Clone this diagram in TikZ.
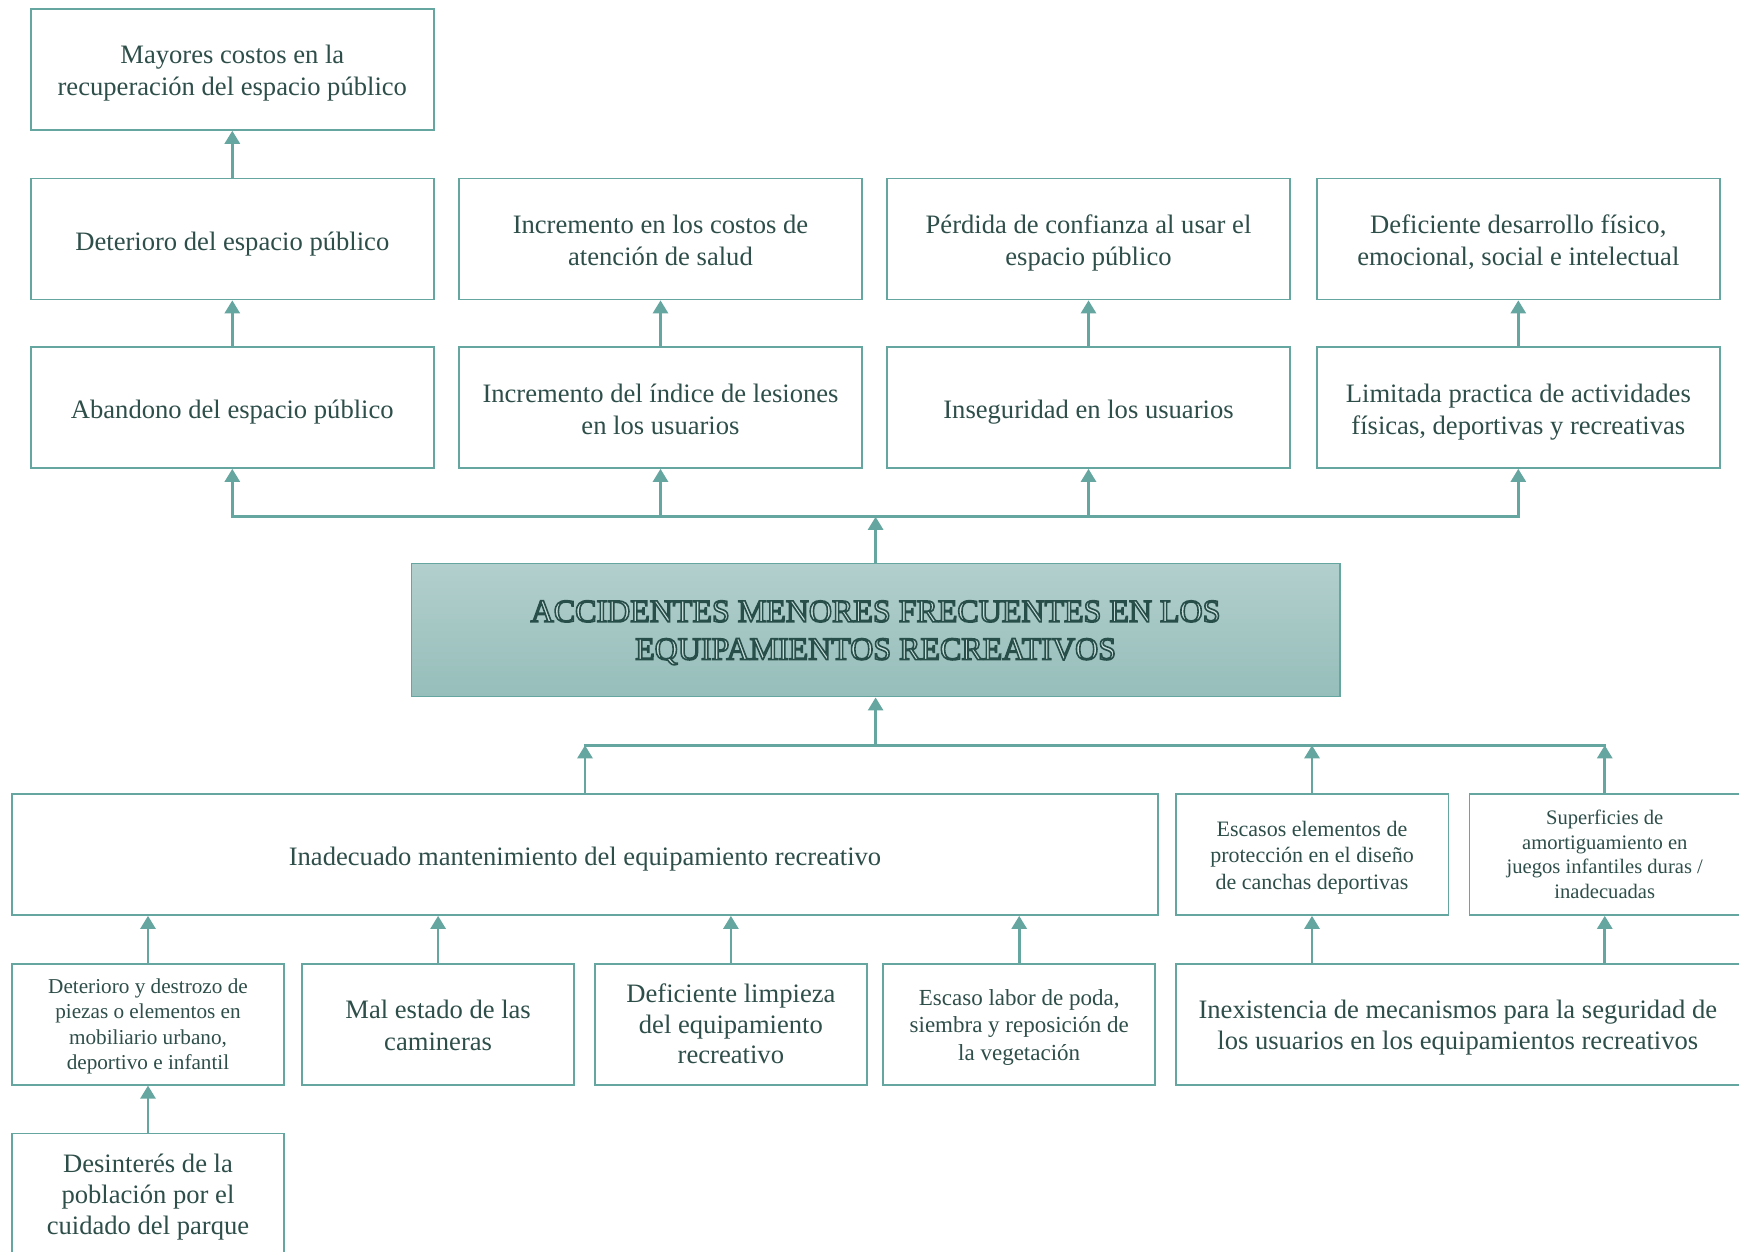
\documentclass[tikz,border=0pt]{standalone}
\usepackage{fontspec}
\setmainfont{Liberation Serif}
\newfontfamily\ttlfont[FakeBold=5]{Liberation Serif}
\usetikzlibrary{arrows.meta}
\definecolor{teal1}{RGB}{102,166,160}
\definecolor{txt}{RGB}{46,78,73}
\definecolor{gtop}{RGB}{178,207,205}
\definecolor{gbot}{RGB}{150,190,186}
\definecolor{tdark}{RGB}{40,78,73}
\newcommand\lightfill{\special{pdf:literal direct 0.784 0.871 0.863 rg}}
% text block: lines of equal height, lowered by #1 inside the box
\newcommand\tx[2][2.1pt]{\raisebox{-#1}[\height][\depth]{\begin{tabular}{@{}c@{}}#2\end{tabular}}}
\begin{document}
\begin{tikzpicture}[x=0.5pt,y=-0.5pt,
  box/.style={draw=teal1, line width=0.9pt, fill=white, text=txt, inner sep=0pt,
    font=\fontsize{13.3}{16}\selectfont},
  colbox/.style={box, minimum width=201.3pt, minimum height=60.45pt},
  rowa/.style={box, minimum height=60.45pt},
  rowb/.style={box, minimum width=135.85pt, minimum height=60.45pt},
  conn/.style={draw=teal1, line width=1.35pt, -{Triangle[width=7.5pt,length=6.5pt]}},
  lin/.style={draw=teal1, line width=1.35pt, line cap=rect}]
\useasboundingbox[fill=white] (0,0) rectangle (1739,1252);

% ---- effects ----
\node[colbox] (t0) at (232.3,69.4) {\tx{Mayores costos en la\\recuperación del espacio público}};
\node[colbox] (t1) at (232.3,239) {\tx[2.3pt]{Deterioro del espacio público}};
\node[colbox] (t2) at (660.5,239) {\tx{Incremento en los costos de\\atención de salud}};
\node[colbox] (t3) at (1088.5,239) {\tx{Pérdida de confianza al usar el\\espacio público}};
\node[colbox] (t4) at (1518.3,239) {\tx{Deficiente desarrollo físico,\\emocional, social e intelectual}};
\node[colbox] (u1) at (232.3,407.5) {\tx[2.5pt]{Abandono del espacio público}};
\node[colbox] (u2) at (660.5,407.5) {\tx{Incremento del índice de lesiones\\en los usuarios}};
\node[colbox] (u3) at (1088.5,407.5) {\tx[2.5pt]{Inseguridad en los usuarios}};
\node[colbox] (u4) at (1518.3,407.5) {\tx{Limitada practica de actividades\\físicas, deportivas y recreativas}};

\draw[conn] (t1.north) -- (t0.south);
\foreach \i in {1,2,3,4} {\draw[conn] (u\i.north) -- (t\i.south);}

% ---- central problem ----
\node[box, top color=gtop, bottom color=gbot, text=tdark,
  minimum width=464.1pt, minimum height=66.55pt,
  font=\ttlfont\fontsize{16}{18.9}\selectfont] (c) at (875.6,630)
  {\tx[1.6pt]{\lightfill ACCIDENTES MENORES FRECUENTES EN LOS\\\lightfill EQUIPAMIENTOS RECREATIVOS}};

\coordinate (hl) at (0,516.8);
\draw[lin] (u1.south |- hl) -- (u4.south |- hl);
\foreach \i in {1,2,3,4} {\draw[conn] (u\i.south |- hl) -- (u\i.south);}
\draw[conn] (c.north) -- (c.north |- hl);

% ---- causes ----
\node[rowa, minimum width=572.85pt] (a1) at (585,854.5) {\tx{Inadecuado mantenimiento del equipamiento recreativo}};
\node[rowa, minimum width=136.4pt, font=\fontsize{11}{13.3}\selectfont] (a2) at (1312,854.5)
  {\tx[1.55pt]{Escasos elementos de\\protección en el diseño\\de canchas deportivas}};
\node[rowa, minimum width=135.25pt, font=\fontsize{10.3}{12.4}\selectfont] (a3) at (1604.75,854.5)
  {\tx[1pt]{Superficies de\\amortiguamiento en\\juegos infantiles duras /\\inadecuadas}};

\node[rowb, font=\fontsize{10.6}{12.75}\selectfont] (b1) at (148,1024.25)
  {\tx[1pt]{Deterioro y destrozo de\\piezas o elementos en\\mobiliario urbano,\\deportivo e infantil}};
\node[rowb, font=\fontsize{13.3}{15.6}\selectfont] (b2) at (438.1,1024.25) {\tx[2pt]{Mal estado de las\\camineras}};
\node[rowb, font=\fontsize{13.3}{15.3}\selectfont] (b3) at (730.9,1024.25) {\tx[1.5pt]{Deficiente limpieza\\del equipamiento\\recreativo}};
\node[rowb, font=\fontsize{11.5}{13.9}\selectfont] (b4) at (1019.2,1024.25)
  {\tx[1.55pt]{Escaso labor de poda,\\siembra y reposición de\\la vegetación}};
\node[rowa, minimum width=282.2pt, font=\fontsize{13.3}{15.6}\selectfont] (b5) at (1457.8,1024.25)
  {\tx[1.65pt]{Inexistencia de mecanismos para la seguridad de\\los usuarios en los equipamientos recreativos}};
\node[rowb, font=\fontsize{13.3}{15.6}\selectfont] (d) at (148,1194)
  {\tx[1.65pt]{Desinterés de la\\población por el\\cuidado del parque}};

\coordinate (bl) at (0,745.3);
\draw[lin] (a1.north |- bl) -- (a3.north |- bl);
\draw[conn] (c.south |- bl) -- (c.south);
\foreach \i in {1,2,3} {\draw[conn] (a\i.north) -- (a\i.north |- bl);}
\foreach \i in {1,2,3,4} {\draw[conn] (b\i.north) -- (b\i.north |- a1.south);}
\draw[conn] (b5.north -| a2) -- (a2.south);
\draw[conn] (b5.north -| a3) -- (a3.south);
\draw[conn] (d.north) -- (b1.south);
\end{tikzpicture}
\end{document}
